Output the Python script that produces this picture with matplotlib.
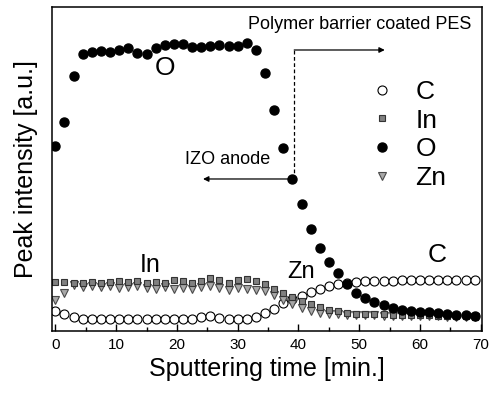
import numpy as np
import matplotlib
matplotlib.use("Agg")
import matplotlib.pyplot as plt
from matplotlib.ticker import MultipleLocator

plt.rcParams['font.family'] = ['Liberation Sans', 'DejaVu Sans']

# sputtering time, one scan every 1.5 min
time = np.arange(47) * 1.5

# peak intensities [a.u.]
c_int = [20, 17, 14, 12, 12, 11.5, 12, 12, 11.5, 12, 12, 12, 11.5, 12, 12, 12,
         13.5, 14.5, 13, 12, 12, 12, 14, 18, 22, 28, 31.5, 35, 38.5, 42, 44.5,
         46.5, 48, 49, 49.5, 50, 50, 50, 50.5, 50.5, 50.5, 50.5, 50.5, 50.5,
         50.5, 50.5, 50.5]
in_int = [49, 49, 48, 48, 49, 48, 49, 50, 49, 50, 48, 49, 48, 51, 50, 48, 50,
          53, 51, 48, 51, 52, 50, 47, 42, 38, 34, 29.5, 27, 24, 21, 19.5, 18,
          17, 17, 16.5, 16.5, 16, 16, 16, 15.5, 15.5, 15, 15, 14.5, 14.5, 14]
o_int = [185, 209, 255, 277, 279, 280, 279, 281, 283, 278, 277, 283, 286, 287,
         287, 284, 284, 285, 286, 285, 285, 288, 281, 258, 221, 183, 152, 127,
         102, 83, 69, 58, 47, 38, 33, 29, 26, 23, 21, 20, 19, 19, 18, 17, 16,
         16, 15]
zn_int = [31, 38, 46, 44, 45, 44, 45, 43, 44, 45, 43, 42, 44, 42, 43, 42, 44,
          45, 43, 41, 43, 42, 41, 40, 36, 31, 27, 23, 20, 18, 17, 16.5, 16, 16,
          15.5, 15.5, 15, 15, 15, 14.5, 14.5, 14.5, 14.5, 14, 14, 14, 14]

fig = plt.figure(figsize=(4.91, 3.93), dpi=100)
ax = fig.add_axes([0.1053, 0.1578, 0.8764, 0.8244])

ax.plot(time, c_int, 'o', ms=6.5, mfc='white', mec='black', mew=0.8, label='C')
ax.plot(time, zn_int, 'v', ms=6.3, mfc='#a8a8a8', mec='#4a4a4a', mew=0.8,
        label='Zn', zorder=2.1)
ax.plot(time, in_int, 's', ms=5, mfc='#808080', mec='#333333', mew=0.8,
        label='In', zorder=2.2)
ax.plot(time, o_int, 'o', ms=6.5, color='black', label='O', zorder=2.3)

# interface marker and the two regions
ax.plot([39.3, 39.3], [152, 281], color='black', ls=(0, (3, 2)), lw=0.9)
ax.annotate('', xy=(54.2, 281), xytext=(39.3, 281),
            arrowprops=dict(arrowstyle='-|>', color='black', lw=0.9,
                            mutation_scale=8, shrinkA=0, shrinkB=0))
ax.annotate('', xy=(24.3, 152), xytext=(39.3, 152),
            arrowprops=dict(arrowstyle='-|>', color='black', lw=0.9,
                            mutation_scale=8, shrinkA=0, shrinkB=0))
ax.text(31.7, 306, 'Polymer barrier coated PES', fontsize=13, va='center')
ax.text(21.3, 171, 'IZO anode', fontsize=13, va='center')

# element labels next to the curves
ax.text(18.05, 263, 'O', fontsize=19, ha='center', va='center')
ax.text(15.6, 66, 'In', fontsize=18, ha='center', va='center')
ax.text(40.5, 59, 'Zn', fontsize=17, ha='center', va='center')
ax.text(62.75, 76, 'C', fontsize=19, ha='center', va='center')

h, l = ax.get_legend_handles_labels()
order = [0, 2, 3, 1]
ax.legend([h[i] for i in order], [l[i] for i in order], loc='upper left',
          bbox_to_anchor=(0.744, 0.775), frameon=False, fontsize=19,
          handlelength=0.8, handletextpad=0.85, labelspacing=0.18,
          borderpad=0, borderaxespad=0)

ax.set_xlim(-0.6, 70.2)
ax.set_ylim(0, 324)
ax.xaxis.set_major_locator(MultipleLocator(10))
ax.xaxis.set_minor_locator(MultipleLocator(5))
ax.tick_params(axis='x', which='major', direction='in', length=5, width=1,
               labelsize=11, pad=5)
ax.tick_params(axis='x', which='minor', direction='in', length=3, width=1)
ax.set_yticks([])
for s in ax.spines.values():
    s.set_linewidth(1.1)

ax.set_xlabel('Sputtering time [min.]', fontsize=18, labelpad=4)
ax.set_ylabel('Peak intensity [a.u.]', fontsize=18, labelpad=10)

fig.savefig('out.png', dpi=100)
